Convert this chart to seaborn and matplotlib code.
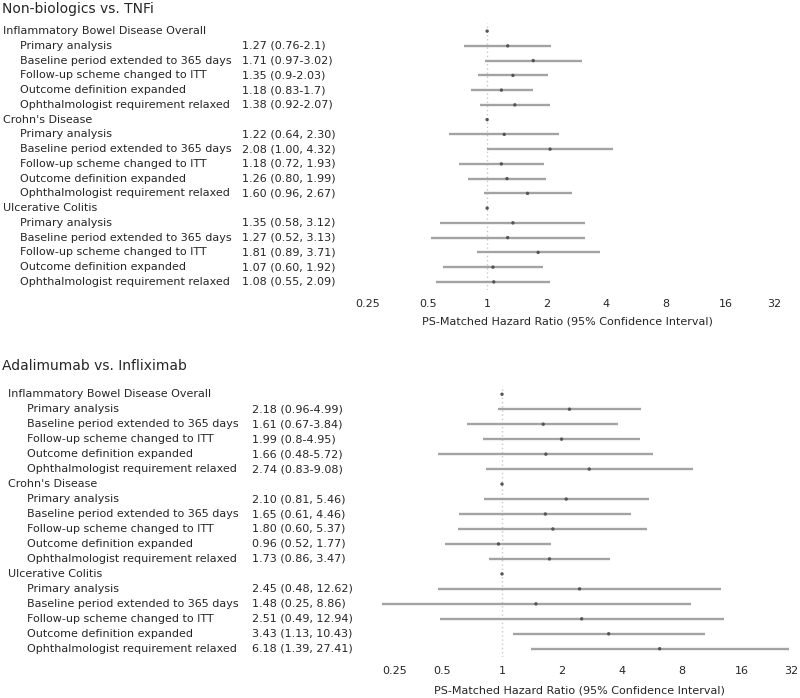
# Forest plots: sensitivity analyses, two comparisons
import numpy as np
import pandas as pd
import matplotlib
matplotlib.use("Agg")
import matplotlib.pyplot as plt
import matplotlib.transforms as mtransforms
import seaborn as sns

sns.set_style("white")
plt.rcParams['font.family'] = ['DejaVu Sans']

# -----------------------------
# Data
# -----------------------------
groups = ["Inflammatory Bowel Disease Overall", "Crohn's Disease", "Ulcerative Colitis"]
analyses = ["Primary analysis",
            "Baseline period extended to 365 days",
            "Follow-up scheme changed to ITT",
            "Outcome definition expanded",
            "Ophthalmologist requirement relaxed"]

# Non-biologics vs. TNFi (IBD, CD, UC)
nb_hr = [1.27, 1.71, 1.35, 1.18, 1.38,  1.22, 2.08, 1.18, 1.26, 1.60,  1.35, 1.27, 1.81, 1.07, 1.08]
nb_lo = [0.76, 0.97, 0.90, 0.83, 0.92,  0.64, 1.00, 0.72, 0.80, 0.96,  0.58, 0.52, 0.89, 0.60, 0.55]
nb_hi = [2.10, 3.02, 2.03, 1.70, 2.07,  2.30, 4.32, 1.93, 1.99, 2.67,  3.12, 3.13, 3.71, 1.92, 2.09]

# Adalimumab vs. Infliximab (IBD, CD, UC)
ai_hr = [2.18, 1.61, 1.99, 1.66, 2.74,  2.10, 1.65, 1.80, 0.96, 1.73,  2.45, 1.48, 2.51, 3.43, 6.18]
ai_lo = [0.96, 0.67, 0.80, 0.48, 0.83,  0.81, 0.61, 0.60, 0.52, 0.86,  0.48, 0.25, 0.49, 1.13, 1.39]
ai_hi = [4.99, 3.84, 4.95, 5.72, 9.08,  5.46, 4.46, 5.37, 1.77, 3.47,  12.62, 8.86, 12.94, 10.43, 27.41]

ticks = [0.25, 0.5, 1, 2, 4, 8, 16, 32]
tick_labels = ["0.25", "0.5", "1", "2", "4", "8", "16", "32"]
xlabel = "PS-Matched Hazard Ratio (95% Confidence Interval)"

W, H = 800, 698
TXT = "#262626"
FS = 8


def build_table(hr, lo, hi):
    rows = []
    k = 0
    for g, name in enumerate(groups):
        # group header row: reference point at 1
        rows.append(dict(label=name, header=True, hr=1.0, lo=1.0, hi=1.0, est=""))
        for a in analyses:
            if g == 0:
                est = f"{hr[k]:g} ({lo[k]:g}-{hi[k]:g})"
            else:
                est = f"{hr[k]:.2f} ({lo[k]:.2f}, {hi[k]:.2f})"
            rows.append(dict(label=a, header=False, hr=hr[k], lo=lo[k], hi=hi[k], est=est))
            k += 1
    df = pd.DataFrame(rows)
    df["row"] = np.arange(len(df))
    return df


def forest(fig, box, df, title, title_y, x_head, x_sub, x_est, first_left):
    # box = (left px, top px, right px, bottom px)
    l, t, r, b = box
    ax = fig.add_axes([l / W, 1 - b / H, (r - l) / W, (b - t) / H])
    ax.set_xscale("log", base=2)
    ax.set_xlim(0.25, 32)
    ax.set_ylim(17.55, -0.55)

    ax.axvline(1, color="#c8c8c8", lw=1, ls=(0, (1, 2)), zorder=0)
    ax.hlines(df["row"], df["lo"], df["hi"], color="#a3a3a3", lw=1.7, zorder=1)
    sns.scatterplot(data=df, x="hr", y="row", ax=ax, color="#555555", s=6,
                    edgecolor="none", zorder=2, legend=False)

    # tick labels drawn at the log-scale positions
    ax.set_xticks([])
    ax.xaxis.set_minor_locator(matplotlib.ticker.NullLocator())
    ax.set_yticks([])
    tt = ax.get_xaxis_transform()
    shift = mtransforms.ScaledTranslation(-4 / 100, 0, fig.dpi_scale_trans)
    for i, (v, s) in enumerate(zip(ticks, tick_labels)):
        ha, tr = "center", tt
        if i == 0 and first_left:
            ha = "left"
        if i == len(ticks) - 1:
            ha, tr = "right", tt + shift
        ax.text(v, -0.035, s, transform=tr, fontsize=FS, color=TXT, ha=ha, va="top")
    ax.set_xlabel(xlabel, fontsize=FS, color=TXT)
    ax.set_ylabel("")
    for sp in ax.spines.values():
        sp.set_visible(False)

    trans = mtransforms.blended_transform_factory(fig.transFigure, ax.transData)
    for _, rw in df.iterrows():
        x = x_head if rw["header"] else x_sub
        ax.text(x / W, rw["row"], rw["label"], transform=trans, fontsize=FS,
                color=TXT, va="center", ha="left")
        if rw["est"]:
            ax.text(x_est / W, rw["row"], rw["est"], transform=trans, fontsize=FS,
                    color=TXT, va="center", ha="left")
    fig.text(2 / W, 1 - title_y / H, title, fontsize=10, color=TXT, va="center", ha="left")
    return ax


fig = plt.figure(figsize=(8, 6.98), dpi=100)

top = build_table(nb_hr, nb_lo, nb_hi)
bot = build_table(ai_hr, ai_lo, ai_hi)

ax1 = forest(fig, (368, 23, 785, 290), top, "Non-biologics vs. TNFi", 9, 3, 20, 242, False)
ax1.xaxis.set_label_coords(0.478, -0.10)
ax2 = forest(fig, (382, 386, 802, 657), bot, "Adalimumab vs. Infliximab", 366, 8, 27, 252, True)
ax2.xaxis.set_label_coords(0.471, -0.105)

plt.savefig("out.png", dpi=100)
